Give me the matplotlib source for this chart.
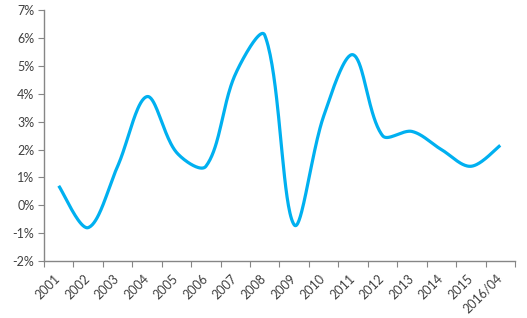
import numpy as np
import matplotlib.pyplot as plt
import matplotlib.transforms as mtransforms

years = ['2001', '2002', '2003', '2004', '2005', '2006', '2007', '2008',
         '2009', '2010', '2011', '2012', '2013', '2014', '2015', '2016/04']
growth = [0.7, -0.8, 1.4, 3.9, 1.9, 1.4, 4.7, 6.1,
          -0.7, 3.2, 5.4, 2.5, 2.65, 2.0, 1.4, 2.15]
y_ticks = [-2, -1, 0, 1, 2, 3, 4, 5, 6, 7]
y_labels = ['-2%', '-1%', '0%', '1%', '2%', '3%', '4%', '5%', '6%', '7%']


def smooth_line(xs, ys, sx=29.4, sy=27.9, n=40):
    # Excel-like smoothing: Bezier segments, tangent split by chord length
    # (chords measured in pixels, sx/sy = pixels per unit)
    p = np.column_stack([np.asarray(xs, float) * sx, np.asarray(ys, float) * sy])
    m = len(p)
    d = np.linalg.norm(np.diff(p, axis=0), axis=1)
    c_out, c_in = [None] * m, [None] * m
    for i in range(m):
        a, b = max(i - 1, 0), min(i + 1, m - 1)
        tan = p[b] - p[a]
        dl = d[i - 1] if i > 0 else d[0]
        dr = d[i] if i < m - 1 else d[-1]
        c_out[i] = p[i] + tan * dr / (dl + dr) / 3
        c_in[i] = p[i] - tan * dl / (dl + dr) / 3
    out = []
    t = np.linspace(0, 1, n)[:, None]
    for i in range(m - 1):
        seg = ((1 - t) ** 3 * p[i] + 3 * (1 - t) ** 2 * t * c_out[i]
               + 3 * (1 - t) * t ** 2 * c_in[i + 1] + t ** 3 * p[i + 1])
        out.append(seg)
    out = np.vstack(out)
    return out[:, 0] / sx, out[:, 1] / sy


plt.rcParams['font.family'] = ['Lato', 'DejaVu Sans']
axis_grey = '#868686'

fig = plt.figure(figsize=(5.27, 3.18), dpi=100)
ax = fig.add_axes([0.0835, 0.179, 0.8937, 0.789])

x = np.arange(len(years))
lx, ly = smooth_line(x, growth)
ax.plot(lx, ly, color='#00B0F0', linewidth=2.3, solid_capstyle='butt')

ax.set_xlim(-0.5, len(years) - 0.5)
ax.set_ylim(-2, 7)

ax.set_yticks(y_ticks)
ax.set_yticklabels(y_labels, fontsize=9, color='#404040')
ax.tick_params(axis='y', length=4, color=axis_grey, pad=3)

# tick marks between categories, labels at the centres
ax.set_xticks(np.arange(len(years) + 1) - 0.5)
ax.set_xticklabels([])
ax.tick_params(axis='x', which='major', length=4, color=axis_grey)
ax.set_xticks(x, minor=True)
ax.set_xticklabels(years, minor=True, rotation=45, ha='right',
                   fontsize=9, color='#404040')
ax.tick_params(axis='x', which='minor', length=0, pad=8)
shift = mtransforms.ScaledTranslation(4 / 100, 0, fig.dpi_scale_trans)
for lab in ax.get_xticklabels(minor=True):
    lab.set_transform(lab.get_transform() + shift)

for side in ['top', 'right']:
    ax.spines[side].set_visible(False)
for side in ['left', 'bottom']:
    ax.spines[side].set_color(axis_grey)
    ax.spines[side].set_linewidth(1.0)

fig.savefig('out.png', dpi=100)
